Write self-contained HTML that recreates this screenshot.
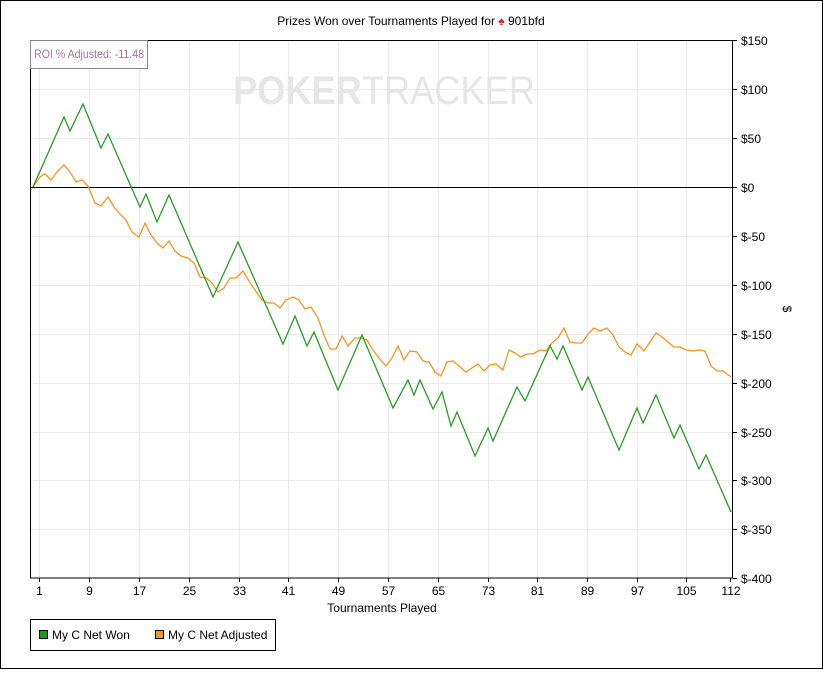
<!DOCTYPE html>
<html><head><style>
body{margin:0;background:#fff}
svg text{font-family:"Liberation Sans",sans-serif;font-size:12px;fill:#000}
</style></head><body>
<svg width="823" height="669" xmlns="http://www.w3.org/2000/svg">
<rect x="0.5" y="0.5" width="822" height="668" fill="#fff" stroke="#000"/>
<text x="411" y="25" text-anchor="middle">Prizes Won over Tournaments Played for <tspan fill="#d22">♠</tspan> 901bfd</text>
<g stroke="#ebebeb" stroke-width="1">
<line x1="39.5" y1="40" x2="39.5" y2="578"/><line x1="89.5" y1="40" x2="89.5" y2="578"/><line x1="139.5" y1="40" x2="139.5" y2="578"/><line x1="189.5" y1="40" x2="189.5" y2="578"/><line x1="239.5" y1="40" x2="239.5" y2="578"/><line x1="288.5" y1="40" x2="288.5" y2="578"/><line x1="338.5" y1="40" x2="338.5" y2="578"/><line x1="388.5" y1="40" x2="388.5" y2="578"/><line x1="438.5" y1="40" x2="438.5" y2="578"/><line x1="488.5" y1="40" x2="488.5" y2="578"/><line x1="537.5" y1="40" x2="537.5" y2="578"/><line x1="587.5" y1="40" x2="587.5" y2="578"/><line x1="637.5" y1="40" x2="637.5" y2="578"/><line x1="686.5" y1="40" x2="686.5" y2="578"/>
<line x1="30" y1="89.5" x2="733" y2="89.5"/><line x1="30" y1="138.5" x2="733" y2="138.5"/><line x1="30" y1="236.5" x2="733" y2="236.5"/><line x1="30" y1="285.5" x2="733" y2="285.5"/><line x1="30" y1="334.5" x2="733" y2="334.5"/><line x1="30" y1="383.5" x2="733" y2="383.5"/><line x1="30" y1="432.5" x2="733" y2="432.5"/><line x1="30" y1="480.5" x2="733" y2="480.5"/><line x1="30" y1="529.5" x2="733" y2="529.5"/>
</g>
<text x="233" y="104" textLength="302" lengthAdjust="spacingAndGlyphs" style="font-size:40px;font-weight:bold;fill:#e6e6e6">POKER<tspan style="font-weight:normal">TRACKER</tspan></text>
<line x1="30" y1="187.5" x2="733" y2="187.5" stroke="#000"/>
<polyline fill="none" stroke="#f7941d" stroke-width="1.3" points="33,187 40,177 45,174 51,180 57,172 64,165 70,172 76,182 82,180 88,186 95,203 101,206 108,197 114,207 120,214 126,220 132,232 139,237 145,223 151,235 157,243 163,248 169,241 175,251 181,256 188,258 194,263 200,277 206,278 212,283 218,292 224,288 230,278 236,278 243,271 249,281 255,290 262,300 268,303 274,303 280,308 286,300 293,297 299,300 305,309 311,307 318,318 324,335 330,349 336,349 342,336 348,346 355,338 361,338 367,340 373,350 379,358 386,366 392,358 398,346 404,360 410,351 417,352 423,361 429,362 435,372 441,376 447,362 453,361 459,366 466,372 472,368 478,364 484,371 490,365 496,364 503,370 509,350 515,353 521,357 527,354 533,354 540,350 546,351 552,343 558,338 564,328 570,342 576,343 582,343 588,334 594,328 600,331 607,328 613,335 619,347 625,352 631,355 637,344 644,351 650,342 656,333 662,337 668,342 674,347 680,347 686,350 693,351 699,350 705,351 711,366 717,371 723,371 731,377"/>
<polyline fill="none" stroke="#22a022" stroke-width="1.3" points="33,187 64,117 70,131 83,104 101,148 108,134 140,207 146,194 157,222 169,195 213,297 238,242 283,344 295,316 307,346 314,332 338,390 362,335 393,408 408,380 414,395 420,380 433,409 442,392 451,426 457,412 475,456 488,428 493,441 517,387 525,401 550,346 557,359 563,346 582,390 588,377 619,450 637,408 643,423 656,395 674,438 680,425 699,469 706,455 731,512"/>
<rect x="30.5" y="40.5" width="702" height="537.5" fill="none" stroke="#000"/>
<rect x="30.5" y="40.5" width="117" height="28" fill="#fff" stroke="#888"/>
<text x="34" y="58" textLength="110" lengthAdjust="spacingAndGlyphs" style="fill:#a07898">ROI % Adjusted: -11.48</text>
<g stroke="#000">
<line x1="733" y1="40.5" x2="737" y2="40.5"/><line x1="733" y1="89.5" x2="737" y2="89.5"/><line x1="733" y1="138.5" x2="737" y2="138.5"/><line x1="733" y1="187.5" x2="737" y2="187.5"/><line x1="733" y1="236.5" x2="737" y2="236.5"/><line x1="733" y1="285.5" x2="737" y2="285.5"/><line x1="733" y1="334.5" x2="737" y2="334.5"/><line x1="733" y1="383.5" x2="737" y2="383.5"/><line x1="733" y1="432.5" x2="737" y2="432.5"/><line x1="733" y1="480.5" x2="737" y2="480.5"/><line x1="733" y1="529.5" x2="737" y2="529.5"/><line x1="733" y1="578.5" x2="737" y2="578.5"/>
<line x1="39.5" y1="578" x2="39.5" y2="582"/><line x1="89.5" y1="578" x2="89.5" y2="582"/><line x1="139.5" y1="578" x2="139.5" y2="582"/><line x1="189.5" y1="578" x2="189.5" y2="582"/><line x1="239.5" y1="578" x2="239.5" y2="582"/><line x1="288.5" y1="578" x2="288.5" y2="582"/><line x1="338.5" y1="578" x2="338.5" y2="582"/><line x1="388.5" y1="578" x2="388.5" y2="582"/><line x1="438.5" y1="578" x2="438.5" y2="582"/><line x1="488.5" y1="578" x2="488.5" y2="582"/><line x1="537.5" y1="578" x2="537.5" y2="582"/><line x1="587.5" y1="578" x2="587.5" y2="582"/><line x1="637.5" y1="578" x2="637.5" y2="582"/><line x1="686.5" y1="578" x2="686.5" y2="582"/><line x1="730.5" y1="578" x2="730.5" y2="582"/>
</g>
<g>
<text x="741" y="45">$150</text><text x="741" y="94">$100</text><text x="741" y="143">$50</text><text x="741" y="192">$0</text><text x="741" y="241">$-50</text><text x="741" y="290">$-100</text><text x="741" y="339">$-150</text><text x="741" y="388">$-200</text><text x="741" y="437">$-250</text><text x="741" y="485">$-300</text><text x="741" y="534">$-350</text><text x="741" y="583">$-400</text>
</g>
<g text-anchor="middle">
<text x="39.5" y="595">1</text><text x="89.5" y="595">9</text><text x="139.5" y="595">17</text><text x="189.5" y="595">25</text><text x="239.5" y="595">33</text><text x="288.5" y="595">41</text><text x="338.5" y="595">49</text><text x="388.5" y="595">57</text><text x="438.5" y="595">65</text><text x="488.5" y="595">73</text><text x="537.5" y="595">81</text><text x="587.5" y="595">89</text><text x="637.5" y="595">97</text><text x="686.5" y="595">105</text><text x="731" y="595">112</text>
<text x="382" y="612">Tournaments Played</text>
</g>
<text transform="translate(783,309) rotate(90)" text-anchor="middle">$</text>
<rect x="30.5" y="619.5" width="245" height="31" fill="#fff" stroke="#000"/>
<rect x="39.5" y="630.5" width="8" height="8" fill="#1a9a1a" stroke="#000"/>
<text x="52" y="639">My C Net Won</text>
<rect x="155.5" y="630.5" width="8" height="8" fill="#f7941d" stroke="#000"/>
<text x="168" y="639">My C Net Adjusted</text>
</svg>
</body></html>
